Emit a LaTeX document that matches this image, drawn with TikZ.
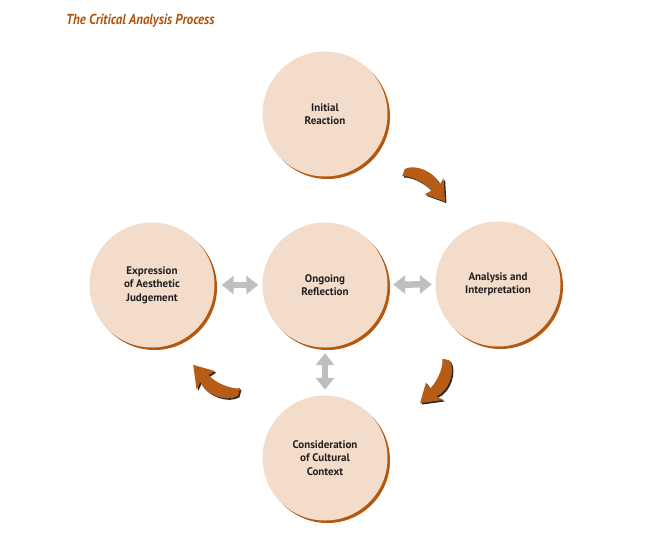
\documentclass[tikz,border=0pt]{standalone}
\usepackage{fontspec}
\setmainfont{PT Sans}
\usetikzlibrary{arrows.meta,shadows}
\definecolor{peach}{HTML}{F3DDCA}
\definecolor{rust}{HTML}{B4580F}
\definecolor{arrowbrown}{HTML}{B65C16}
\definecolor{arrowshadow}{HTML}{2B2B2B}
\definecolor{titlecol}{HTML}{B4530E}
\definecolor{greyarrow}{HTML}{BDBFC1}
\definecolor{textcol}{HTML}{231F20}
\newcommand{\bentpath}{(-1,-3.5) .. controls (4,-14) and (26,-19) .. (36.6,-10.5) -- (36,-18.5) -- (50.7,0) -- (30,5.5) -- (33.2,-1.1) .. controls (25,-3.5) and (9,-2.5) .. (1,3.6) -- cycle}
\tikzset{
  stage/.style={circle, minimum size=125pt, inner sep=0pt, fill=peach, text=textcol,
    align=center, font=\bfseries\fontsize{11}{13.5}\selectfont,
    drop shadow={shadow xshift=2.5pt, shadow yshift=-2.5pt, fill=rust, opacity=1}},
  link/.style={draw=greyarrow, line width=6.5pt,
    {Triangle[width=18pt,length=12pt]}-{Triangle[width=18pt,length=12pt]},
    shorten <=5pt, shorten >=5pt},
  turnfill/.style={fill=arrowbrown},
  turnshadow/.style={fill=arrowshadow}
}
\begin{document}
\begin{tikzpicture}[x=1pt,y=-1pt]
\useasboundingbox (0,0) rectangle (660,543);
\fill[white] (0,0) rectangle (660,543);
\node[anchor=base west, text=titlecol, font=\bfseries\itshape\fontsize{14.5}{14.5}\selectfont, inner sep=0pt] (title) at (66,24.5) {\scalebox{0.885}[1]{The Critical Analysis Process}};

\node[stage] (init) at (325,114) {Initial\\Reaction};
\node[stage] (refl) at (325,285) {Ongoing\\Reflection};
\node[stage] (expr) at (152,285) {Expression\\of Aesthetic\\Judgement};
\node[stage] (anal) at (498,284) {Analysis and\\Interpretation};
\node[stage] (cult) at (325,458) {Consideration\\of Cultural\\Context};

\draw[link, shorten <=7pt, shorten >=4pt] (expr) -- (refl);
\draw[link, shorten <=5.5pt, shorten >=3.5pt] (refl) -- (anal);
\draw[link, shorten <=5.5pt, shorten >=5.5pt] (refl) -- (cult);

% curved process arrows
\fill[turnshadow, shift={(405,174)}, rotate=-35.1] \bentpath;
\fill[turnfill, shift={(403.5,172.5)}, rotate=-35.1] \bentpath;
\fill[turnshadow, shift={(447.5,361)}, rotate=-120.7] \bentpath;
\fill[turnfill, shift={(446,359.5)}, rotate=-120.7] \bentpath;
\fill[turnshadow, shift={(240.5,393.5)}, rotate=-210.6, scale=1.05] \bentpath;
\fill[turnfill, shift={(239,392)}, rotate=-210.6, scale=1.05] \bentpath;
\end{tikzpicture}
\end{document}
